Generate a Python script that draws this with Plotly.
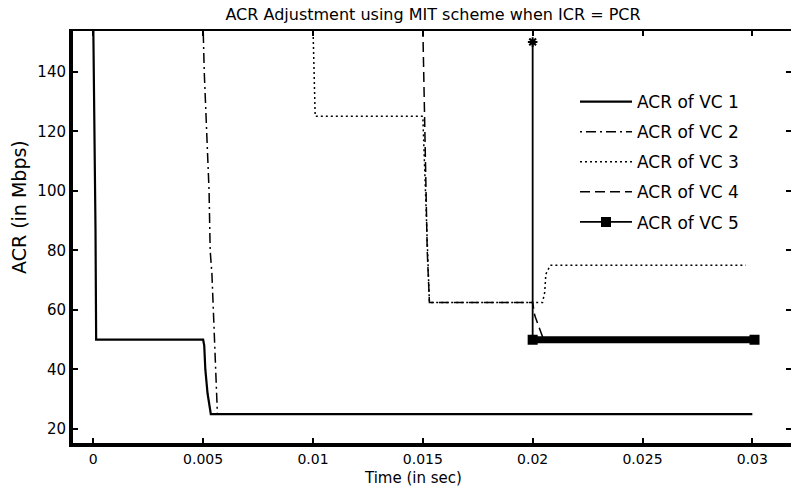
import plotly.graph_objects as go

# ---------------- data ----------------
t_vc1 = [0.0, 0.00005, 0.0001, 0.00013, 0.0050, 0.00505, 0.0051, 0.0052, 0.00535, 0.0300]
acr_vc1 = [155, 127, 87, 50, 50, 48, 40, 32, 25, 25]

t_vc2 = [0.0050, 0.00505, 0.00527, 0.00532, 0.0054, 0.00562, 0.00565, 0.0300]
acr_vc2 = [155, 140, 100, 80, 72, 28, 25, 25]

t_vc3 = [0.0100, 0.0101, 0.0150, 0.0153, 0.02045, 0.02055, 0.0206, 0.0208, 0.0297]
acr_vc3 = [155, 125, 125, 62.5, 62.5, 66, 72, 75, 75]

t_vc4 = [0.0150, 0.0152, 0.0153, 0.0200, 0.0201, 0.0203, 0.0205, 0.0300]
acr_vc4 = [155, 80, 62.5, 62.5, 58, 54, 50, 50]

t_vc5 = [0.0200, 0.0200, 0.0301]
acr_vc5 = [150, 50, 50]

x_tickvals = [0, 0.005, 0.01, 0.015, 0.02, 0.025, 0.03]
x_ticktext = ["0", "0.005", "0.01", "0.015", "0.02", "0.025", "0.03"]
y_tickvals = [20, 40, 60, 80, 100, 120, 140]
y_ticktext = ["20", "40", "60", "80", "100", "120", "140"]

names = ["ACR of VC 1", "ACR of VC 2", "ACR of VC 3", "ACR of VC 4", "ACR of VC 5"]

FONT = "DejaVu Sans"
BLACK = "#000000"

fig = go.Figure()

fig.add_trace(go.Scatter(x=t_vc1, y=acr_vc1, mode="lines", name=names[0],
                         legendgroup="g1",
                         line=dict(color=BLACK, width=2.2)))
fig.add_trace(go.Scatter(x=t_vc2, y=acr_vc2, mode="lines", name=names[1],
                         legendgroup="g2",
                         line=dict(color=BLACK, width=1.5, dash="2px,4px,10px,4px")))
fig.add_trace(go.Scatter(x=t_vc3, y=acr_vc3, mode="lines", name=names[2],
                         legendgroup="g3",
                         line=dict(color=BLACK, width=1.5, dash="2px,3px")))
fig.add_trace(go.Scatter(x=t_vc4, y=acr_vc4, mode="lines", name=names[3],
                         legendgroup="g4",
                         line=dict(color=BLACK, width=1.5, dash="10px,5px")))
# VC5: thick band of sample markers along the final rate
fig.add_trace(go.Scatter(x=t_vc5[1:], y=acr_vc5[1:], mode="lines", showlegend=False,
                         legendgroup="g5", hoverinfo="skip",
                         line=dict(color=BLACK, width=7)))
# VC5: main line with markers (points listed last-to-first so legend shows a square)
fig.add_trace(go.Scatter(x=t_vc5[::-1], y=acr_vc5[::-1], mode="lines+markers", name=names[4],
                         legendgroup="g5",
                         line=dict(color=BLACK, width=1.8),
                         marker=dict(symbol=["square", "square", "asterisk-open"],
                                     size=8, color=BLACK,
                                     line=dict(color=BLACK, width=2))))
# empty trace so that the mirrored frame axes (top / right) are drawn
fig.add_trace(go.Scatter(x=[], y=[], xaxis="x2", yaxis="y2", showlegend=False,
                         hoverinfo="skip"))

axis_font = dict(family=FONT, size=14, color=BLACK)

fig.update_layout(
    width=791, height=487,
    margin=dict(l=73, r=0, t=31, b=44),
    paper_bgcolor="white", plot_bgcolor="white",
    font=dict(family=FONT, size=14, color=BLACK),
    title=dict(text="ACR Adjustment using MIT scheme when ICR = PCR",
               x=433 / 791, xanchor="center", y=1 - 14 / 487, yanchor="middle",
               font=dict(family=FONT, size=16, color=BLACK)),
    xaxis=dict(range=[-0.000924, 0.03176], tickvals=x_tickvals, ticktext=x_ticktext,
               showgrid=False, zeroline=False, showline=True, linecolor=BLACK, linewidth=4,
               ticks="inside", ticklen=5, tickwidth=2, tickcolor=BLACK,
               tickfont=axis_font, mirror=False),
    yaxis=dict(range=[15.30, 153.67], tickvals=y_tickvals, ticktext=y_ticktext,
               showgrid=False, zeroline=False, showline=True, linecolor=BLACK, linewidth=4,
               ticks="inside", ticklen=5, tickwidth=1.5, tickcolor=BLACK,
               tickfont=dict(family=FONT, size=15, color=BLACK), mirror=False),
    xaxis2=dict(overlaying="x", matches="x", side="top", anchor="y2", showticklabels=False,
                tickvals=x_tickvals, showgrid=False, zeroline=False, showline=True,
                linecolor=BLACK, linewidth=1.5, ticks="inside", ticklen=5, tickwidth=2,
                tickcolor=BLACK),
    yaxis2=dict(overlaying="y", matches="y", side="right", anchor="x2", showticklabels=False,
                tickvals=y_tickvals, showgrid=False, zeroline=False, showline=True,
                linecolor=BLACK, linewidth=1.5, ticks="inside", ticklen=5, tickwidth=1.5,
                tickcolor=BLACK),
    legend=dict(x=(575 - 73) / 718, xanchor="left", y=(443 - 84) / 412, yanchor="top",
                bgcolor="rgba(0,0,0,0)", font=dict(family=FONT, size=17, color=BLACK),
                itemwidth=52, traceorder="grouped", tracegroupgap=5),
    showlegend=True,
    annotations=[
        dict(text="Time (in sec)", xref="paper", yref="paper",
             x=(413 - 73) / 718, y=(443 - 478) / 412, xanchor="center", yanchor="middle",
             showarrow=False, font=dict(family=FONT, size=15, color=BLACK)),
        dict(text="ACR (in Mbps)", xref="paper", yref="paper",
             x=(19 - 73) / 718, y=(443 - 207) / 412, xanchor="center", yanchor="middle",
             textangle=-90, showarrow=False, font=dict(family=FONT, size=19, color=BLACK)),
    ],
)

fig.write_html("out.html")
